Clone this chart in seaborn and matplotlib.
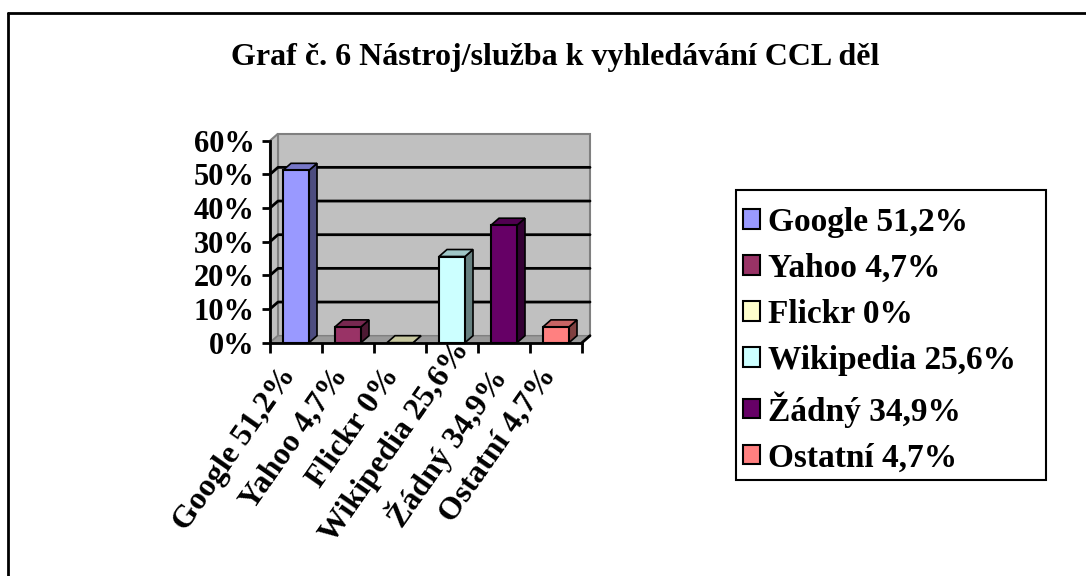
import numpy as np
import pandas as pd
import matplotlib
matplotlib.use("Agg")
import matplotlib.pyplot as plt
import seaborn as sns
from matplotlib.patches import Polygon, Patch, Rectangle
from matplotlib.lines import Line2D
from matplotlib.transforms import IdentityTransform, ScaledTranslation
import matplotlib.colors as mcolors

# ---------------- data ----------------
categories = ["Google 51,2%", "Yahoo 4,7%", "Flickr 0%", "Wikipedia 25,6%",
              "Žádný 34,9%", "Ostatní 4,7%"]
values = [0.512, 0.047, 0.0, 0.256, 0.349, 0.047]
colors = ["#9999FF", "#993366", "#FFFFCC", "#CCFFFF", "#660066", "#FF8080"]
y_ticks = [0.0, 0.1, 0.2, 0.3, 0.4, 0.5, 0.6]
y_tick_labels = ["0%", "10%", "20%", "30%", "40%", "50%", "60%"]
title = "Graf č. 6 Nástroj/služba k vyhledávání CCL děl"

# ---------------- style ----------------
sns.set_theme(style="white")
plt.rcParams["font.family"] = ["Liberation Serif", "DejaVu Serif"]
plt.rcParams["font.weight"] = "bold"
plt.rcParams["text.color"] = "black"
plt.rcParams["xtick.color"] = "black"
plt.rcParams["ytick.color"] = "black"
plt.rcParams["axes.labelcolor"] = "black"

W, H = 1086, 576
fig = plt.figure(figsize=(W / 100, H / 100), dpi=100)
fig.patch.set_facecolor("white")
ax = fig.add_axes([270 / W, (H - 342.7) / H, 312 / W, 202 / H])

df = pd.DataFrame({"cat": categories, "val": values})
sns.barplot(data=df, x="cat", y="val", hue="cat", palette=colors, width=0.5,
            saturation=1, edgecolor="black", linewidth=1.5, ax=ax,
            legend=False, zorder=5)
bars = list(ax.patches)

ax.set_xlim(-0.5, 5.5)
ax.set_ylim(0, 0.6)
ax.patch.set_visible(False)
for s in ["top", "right"]:
    ax.spines[s].set_visible(False)
for s in ["left", "bottom"]:
    ax.spines[s].set_color("black")
    ax.spines[s].set_linewidth(2)
    ax.spines[s].set_zorder(6)
ax.set_xlabel("")
ax.set_ylabel("")

# depth offsets (pixels)
dx, dy = 8, 7
fig.canvas.draw()


def D(x, y, d=0):
    p = ax.transData.transform((x, y))
    return (p[0] + d * dx, p[1] + d * dy)


def add_poly(pts, fc, ec, lw, z):
    poly = Polygon(pts, closed=True, facecolor=fc, edgecolor=ec, linewidth=lw,
                   transform=IdentityTransform(), zorder=z, clip_on=False)
    ax.add_artist(poly)


def add_line(pts, z, color="black", lw=2):
    pts = np.array(pts)
    ax.add_artist(Line2D(pts[:, 0], pts[:, 1], color=color, linewidth=lw,
                         transform=IdentityTransform(), zorder=z,
                         clip_on=False))


x0, x1 = -0.5, 5.5
ymax = 0.6
# back wall
add_poly([D(x0, 0, 1), D(x1, 0, 1), D(x1, ymax, 1), D(x0, ymax, 1)],
         "#C0C0C0", "#808080", 1.5, 0.5)
# left wall
add_poly([D(x0, 0, 0), D(x0, 0, 1), D(x0, ymax, 1), D(x0, ymax, 0)],
         "#C0C0C0", "#808080", 1.5, 0.6)
# floor
add_poly([D(x0, 0, 0), D(x1, 0, 0), D(x1, 0, 1), D(x0, 0, 1)],
         "#9A9A9A", "#808080", 1.0, 0.7)

# gridlines on walls
for yv in y_ticks[1:-1]:
    add_line([D(x0, yv, 0), D(x0, yv, 1), D(x1, yv, 1)], 1)
# floor right edge continues the axis
add_line([D(x1, 0, 0), D(x1, 0, 1)], 1)

# 3D sides / tops of bars
for p in bars:
    bx, bw, bh = p.get_x(), p.get_width(), p.get_height()
    rgb = np.array(mcolors.to_rgb(p.get_facecolor()))
    side = tuple(rgb * 0.5)
    top = tuple(rgb * 0.78)
    add_poly([D(bx + bw, 0, 0), D(bx + bw, bh, 0), D(bx + bw, bh, 1),
              D(bx + bw, 0, 1)], side, "black", 1.2, 4)
    add_poly([D(bx, bh, 0), D(bx + bw, bh, 0), D(bx + bw, bh, 1),
              D(bx, bh, 1)], top, "black", 1.2, 4)

# ticks
ax.set_yticks(y_ticks, y_tick_labels)
ax.tick_params(axis="y", left=True, length=6, width=2, pad=5, labelsize=22,
               direction="out", colors="black")
ax.set_xticks(range(len(categories)))
rot = 55
ax.set_xticklabels(categories, rotation=rot, ha="right",
                   rotation_mode="anchor", fontsize=23, fontweight="bold")
ax.set_xticks(np.arange(-0.5, len(categories), 1), minor=True)
ax.tick_params(axis="x", which="major", length=0, pad=14, bottom=True)
ax.tick_params(axis="x", which="minor", length=7, width=2, bottom=True,
               direction="out", colors="black")
for lbl in ax.get_yticklabels():
    lbl.set_fontweight("bold")

shift = ScaledTranslation(-0.18, 0, fig.dpi_scale_trans)
for lbl in ax.get_xticklabels():
    lbl.set_transform(lbl.get_transform() + shift)

# labels that would run past the bottom of the chart area are pushed up
fig.canvas.draw()
renderer = fig.canvas.get_renderer()
limit = H - 548
for lbl in ax.get_xticklabels():
    ext = lbl.get_window_extent(renderer)
    if ext.y0 < limit:
        need = limit - ext.y0
        t = need / np.sin(np.radians(rot))
        ux = t * np.cos(np.radians(rot))
        lbl.set_transform(lbl.get_transform() +
                          ScaledTranslation(ux / 100, need / 100,
                                            fig.dpi_scale_trans))

# title
fig.text(555 / W, 1 - 57 / H, title, ha="center", va="center",
         fontsize=23, fontweight="bold")

# legend (box drawn separately)
fig.add_artist(Rectangle((736 / W, 1 - 480 / H), 310 / W, 290 / H,
                         transform=fig.transFigure, facecolor="none",
                         edgecolor="black", linewidth=1.5))
handles = [Patch(facecolor=c, edgecolor="black", linewidth=1.5, label=cat)
           for c, cat in zip(colors, categories)]
leg = fig.legend(handles=handles, loc="upper left",
                 bbox_to_anchor=(743 / W, 1 - 207 / H), frameon=False,
                 prop={"weight": "bold", "size": 24},
                 handlelength=0.52, handleheight=0.52, handletextpad=0.22,
                 labelspacing=0.45, borderpad=0, borderaxespad=0)

# outer frame (left and top edges visible)
fig.add_artist(Line2D([7.5 / W, 7.5 / W], [0, 1 - 13 / H],
                      transform=fig.transFigure, color="black", linewidth=2))
fig.add_artist(Line2D([7.5 / W, 1], [1 - 13 / H, 1 - 13 / H],
                      transform=fig.transFigure, color="black", linewidth=2))

fig.savefig("out.png", dpi=100)
